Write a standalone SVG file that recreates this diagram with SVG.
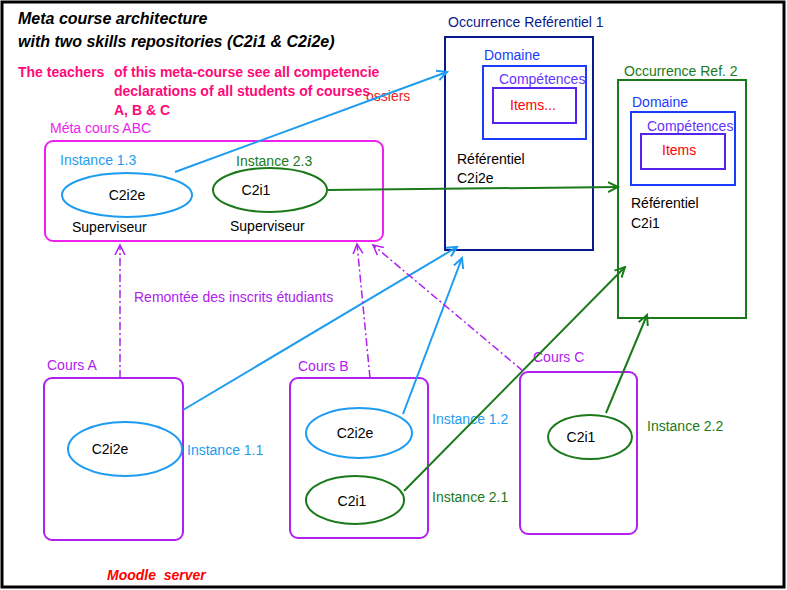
<svg xmlns="http://www.w3.org/2000/svg" width="787" height="590" viewBox="0 0 787 590">
<style>
text{font-family:"Liberation Sans",Arial,sans-serif;font-size:14px}
.t{font-weight:bold;font-style:italic;font-size:16px;fill:#000}
.p{font-weight:bold;font-size:14px;fill:#ff0a78}
.mg{fill:none;stroke:#ee22ee;stroke-width:2}
.pu{fill:none;stroke:#b020f0;stroke-width:2}
.be{fill:#fff;stroke:#1e9cf0;stroke-width:2}
.ge{fill:#fff;stroke:#1a7a1a;stroke-width:2}
.bl{stroke:#1e9cf0;stroke-width:2;fill:none;marker-end:url(#ab)}
.gl{stroke:#1a7a1a;stroke-width:2;fill:none;marker-end:url(#ag)}
.dl{stroke:#b020f0;stroke-width:1.5;fill:none;stroke-dasharray:8 3 2 3;marker-end:url(#ap)}
</style>
<defs>
<marker id="ab" markerWidth="12" markerHeight="12" refX="10" refY="6" orient="auto" markerUnits="userSpaceOnUse"><path d="M0,1 L10,6 L0,11" fill="none" stroke="#1e9cf0" stroke-width="2"/></marker>
<marker id="ag" markerWidth="12" markerHeight="12" refX="10" refY="6" orient="auto" markerUnits="userSpaceOnUse"><path d="M0,1 L10,6 L0,11" fill="none" stroke="#1a7a1a" stroke-width="2"/></marker>
<marker id="ap" markerWidth="12" markerHeight="12" refX="10" refY="6" orient="auto" markerUnits="userSpaceOnUse"><path d="M0,1 L10,6 L0,11" fill="none" stroke="#b020f0" stroke-width="1.5"/></marker>
</defs>
<rect width="787" height="590" fill="#fff"/>
<rect x="2" y="2" width="782" height="585" fill="none" stroke="#000" stroke-width="3"/>
<text class="t" x="18" y="24">Meta course architecture</text>
<text class="t" x="18" y="47">with two skills repositories (C2i1 &amp; C2i2e)</text>
<text class="p" x="18" y="77" font-size="13">The teachers</text>
<text class="p" x="114" y="77">of this meta-course see all competencie</text>
<text class="p" x="114" y="96">declarations of all students of courses</text>
<text class="p" x="114" y="115">A, B &amp; C</text>
<text x="366" y="101" fill="#ee2222" font-size="13">ossiers</text>
<text x="107" y="580" fill="#ff0000" font-weight="bold" font-style="italic" font-size="18" xml:space="preserve">Moodle  server</text>

<g id="meta">
<text x="50" y="133" fill="#ee22ee">Méta cours ABC</text>
<rect class="mg" x="45" y="141" width="338" height="100" rx="8"/>
<text x="60" y="165" fill="#1e9cf0">Instance 1.3</text>
<ellipse class="be" cx="127" cy="195" rx="65" ry="22"/>
<text x="127" y="200" text-anchor="middle">C2i2e</text>
<text x="72" y="232">Superviseur</text>
<text x="236" y="166" fill="#1a7a1a">Instance 2.3</text>
<ellipse class="ge" cx="270" cy="190" rx="57" ry="22"/>
<text x="256" y="195" text-anchor="middle">C2i1</text>
<text x="230" y="231">Superviseur</text>
</g>

<g id="ref1">
<text x="448" y="27" fill="#0a1a8c">Occurrence Reférentiel 1</text>
<rect x="445" y="37" width="148" height="213" fill="none" stroke="#0a1a8c" stroke-width="2"/>
<text x="484" y="60" fill="#1a3cff">Domaine</text>
<rect x="483" y="66" width="103" height="73" fill="none" stroke="#1a3cff" stroke-width="2"/>
<text x="499" y="84" fill="#6633ff" font-size="12">Compétences</text>
<rect x="493" y="88" width="83" height="35" fill="none" stroke="#5522ee" stroke-width="2"/>
<text x="510" y="110" fill="#ff0000" font-size="12">Items...</text>
<text x="457" y="164">Référentiel</text>
<text x="457" y="183">C2i2e</text>
</g>

<g id="ref2">
<text x="624" y="76" fill="#1a7a1a">Occurrence Ref. 2</text>
<rect x="618" y="80" width="128" height="238" fill="none" stroke="#1a7a1a" stroke-width="2"/>
<text x="632" y="107" fill="#1a3cff">Domaine</text>
<rect x="631" y="112" width="104" height="73" fill="none" stroke="#1a3cff" stroke-width="2"/>
<text x="647" y="131" fill="#6633ff" font-size="12">Compétences</text>
<rect x="641" y="134" width="84" height="35" fill="none" stroke="#5522ee" stroke-width="2"/>
<text x="662" y="155" fill="#ff0000" font-size="12">Items</text>
<text x="631" y="208">Référentiel</text>
<text x="631" y="228">C2i1</text>
</g>

<g id="coursA">
<text x="47" y="370" fill="#b020f0">Cours A</text>
<rect class="pu" x="44" y="378" width="139" height="162" rx="8"/>
<ellipse class="be" cx="125" cy="449" rx="57" ry="27"/>
<text x="110" y="454" text-anchor="middle">C2i2e</text>
<text x="187" y="455" fill="#1e9cf0">Instance 1.1</text>
</g>

<g id="coursB">
<text x="298" y="371" fill="#b020f0">Cours B</text>
<rect class="pu" x="290" y="378" width="138" height="160" rx="8"/>
<ellipse class="be" cx="359" cy="433" rx="53" ry="25"/>
<text x="355" y="438" text-anchor="middle">C2i2e</text>
<ellipse class="ge" cx="355" cy="500" rx="49" ry="24"/>
<text x="352" y="506" text-anchor="middle">C2i1</text>
<text x="432" y="424" fill="#1e9cf0">Instance 1.2</text>
<text x="432" y="502" fill="#1a7a1a">Instance 2.1</text>
</g>

<g id="coursC">
<text x="533" y="362" fill="#b020f0">Cours C</text>
<rect class="pu" x="520" y="372" width="117" height="162" rx="8"/>
<ellipse class="ge" cx="590" cy="437" rx="42" ry="22"/>
<text x="581" y="442" text-anchor="middle">C2i1</text>
<text x="647" y="431" fill="#1a7a1a">Instance 2.2</text>
</g>

<g id="connectors">
<line class="bl" x1="175" y1="172" x2="447" y2="72"/>
<line class="gl" x1="328" y1="190" x2="618" y2="187"/>
<line class="bl" x1="183" y1="410" x2="457" y2="247"/>
<line class="bl" x1="403" y1="414" x2="462" y2="258"/>
<line class="gl" x1="404" y1="491" x2="625" y2="267"/>
<line class="gl" x1="606" y1="413" x2="647" y2="315"/>
<line class="dl" x1="120" y1="378" x2="120" y2="245"/>
<line class="dl" x1="370" y1="378" x2="357" y2="244"/>
<line class="dl" x1="523" y1="371" x2="373" y2="245"/>
<text x="134" y="302" fill="#b020f0">Remontée des inscrits étudiants</text>
</g>
</svg>
